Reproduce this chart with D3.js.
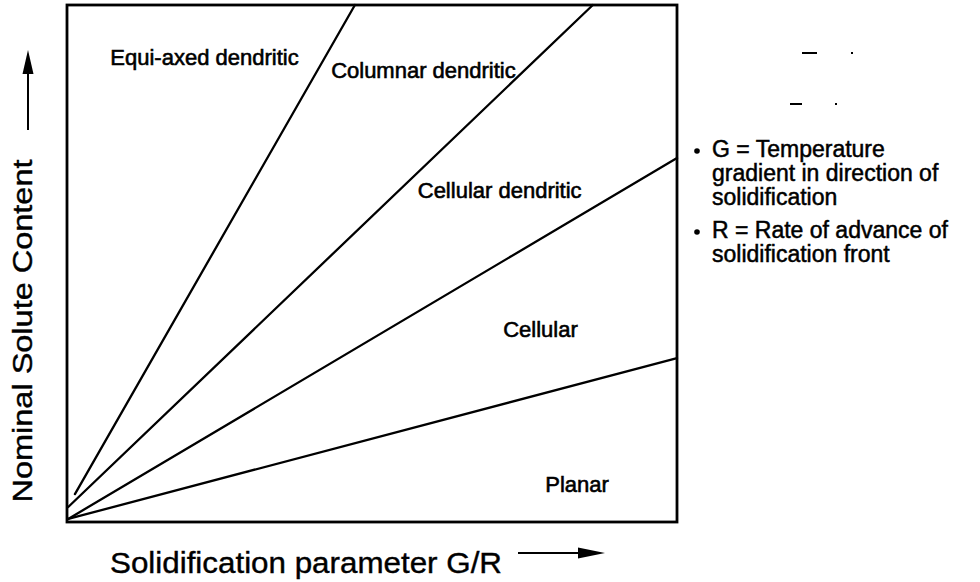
<!DOCTYPE html>
<html>
<head>
<meta charset="utf-8">
<script src="https://cdn.jsdelivr.net/npm/d3@7"></script>
<style>
  html, body { margin: 0; padding: 0; background: #fff; }
  svg { display: block; }
  text { font-family: "Liberation Sans", Arial, Helvetica, sans-serif; fill: #000; }
</style>
</head>
<body>
<svg id="chart" width="980" height="582"></svg>
<script>
// ---- Data (conceptual regime boundaries, in normalized G/R vs solute units) ----
const boundaryNames = ["equiaxed/columnar", "columnar/cellular-dendritic", "cellular-dendritic/cellular", "cellular/planar"];
const boundaryX0 = [0.013, 0.002, 0.002, 0.002];
const boundaryY0 = [0.054, 0.029, 0.006, 0.006];
const boundaryX1 = [0.472, 0.862, 1.000, 1.000];
const boundaryY1 = [1.000, 1.000, 0.704, 0.317];

const regionLabels = ["Equi-axed dendritic", "Columnar dendritic", "Cellular dendritic", "Cellular", "Planar"];
const regionLabelX = [0.071, 0.433, 0.575, 0.715, 0.784];
const regionLabelY = [0.884, 0.859, 0.627, 0.358, 0.058];

const xAxisTitle = "Solidification parameter G/R";
const yAxisTitle = "Nominal Solute Content";

const legendItems = [
  ["G = Temperature", "gradient in direction of", "solidification"],
  ["R = Rate of advance of", "solidification front"]
];

// ---- Layout ----
const svg = d3.select("#chart");
const plot = { left: 67, right: 677, top: 5, bottom: 522 };
const x = d3.scaleLinear().domain([0, 1]).range([plot.left, plot.right]);
const y = d3.scaleLinear().domain([0, 1]).range([plot.bottom, plot.top]);

// frame
svg.append("rect")
  .attr("x", x(0)).attr("y", y(1))
  .attr("width", x(1) - x(0)).attr("height", y(0) - y(1))
  .attr("fill", "none").attr("stroke", "#000").attr("stroke-width", 2.8);

// boundary lines
const bounds = boundaryNames.map((n, i) => ({ n, x0: boundaryX0[i], y0: boundaryY0[i], x1: boundaryX1[i], y1: boundaryY1[i] }));
svg.append("g").selectAll("line").data(bounds).join("line")
  .attr("x1", d => x(d.x0)).attr("y1", d => y(d.y0))
  .attr("x2", d => x(d.x1)).attr("y2", d => y(d.y1))
  .attr("stroke", "#000").attr("stroke-width", 2.3).attr("stroke-linecap", "round");

// region labels
svg.append("g").selectAll("text").data(regionLabels).join("text")
  .attr("x", (d, i) => x(regionLabelX[i]))
  .attr("y", (d, i) => y(regionLabelY[i]))
  .attr("font-size", 22)
  .attr("stroke", "#000").attr("stroke-width", 0.6)
  .text(d => d);

// x axis title + arrow
svg.append("text")
  .attr("x", 110).attr("y", 573)
  .attr("font-size", 30)
  .attr("stroke", "#000").attr("stroke-width", 0.4)
  .attr("textLength", 392).attr("lengthAdjust", "spacingAndGlyphs")
  .text(xAxisTitle);
svg.append("line").attr("x1", 518).attr("y1", 553).attr("x2", 582).attr("y2", 553)
  .attr("stroke", "#000").attr("stroke-width", 2);
svg.append("path").attr("d", "M578,547.5 L605,553 L578,558.5 Z").attr("fill", "#000");

// y axis title + arrow
svg.append("text")
  .attr("transform", "translate(32,331) rotate(-90)")
  .attr("text-anchor", "middle")
  .attr("font-size", 27)
  .attr("stroke", "#000").attr("stroke-width", 0.4)
  .attr("textLength", 343).attr("lengthAdjust", "spacingAndGlyphs")
  .text(yAxisTitle);
svg.append("line").attr("x1", 28).attr("y1", 130).attr("x2", 28).attr("y2", 70)
  .attr("stroke", "#000").attr("stroke-width", 2);
svg.append("path").attr("d", "M22.5,74 L28,50 L33.5,74 Z").attr("fill", "#000");

// legend (notes)
const lg = svg.append("g");
let yy = 157;
legendItems.forEach((item, k) => {
  lg.append("circle").attr("cx", 697).attr("cy", yy - 6).attr("r", 2.8).attr("fill", "#000");
  item.forEach((line, j) => {
    lg.append("text").attr("x", 712).attr("y", yy)
      .attr("font-size", 23)
      .attr("stroke", "#000").attr("stroke-width", 0.5)
      .text(line);
    yy += 24;
  });
  yy += 9;
});

// faint scan marks (upper right)
const marks = [[802, 53, 817, 53], [851, 53, 853, 53], [790, 104, 802, 104], [835, 104, 837, 104]];
svg.append("g").selectAll("line").data(marks).join("line")
  .attr("x1", d => d[0]).attr("y1", d => d[1]).attr("x2", d => d[2]).attr("y2", d => d[3])
  .attr("stroke", "#000").attr("stroke-width", 2);
</script>
</body>
</html>
